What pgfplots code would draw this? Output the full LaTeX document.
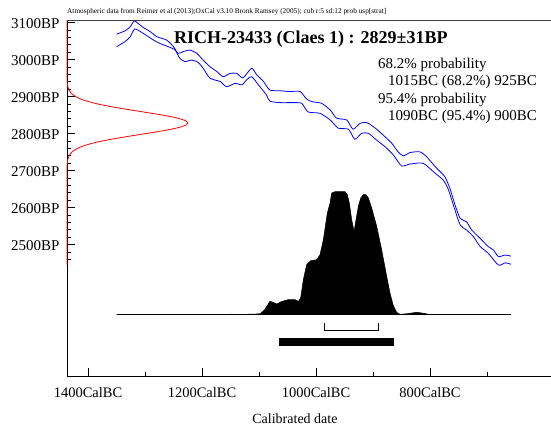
\documentclass[border=0pt]{standalone}
\usepackage{fontspec}
\setmainfont{Liberation Serif}
\usepackage{pgfplots}
\pgfplotsset{compat=1.18}
\begin{document}
\begin{tikzpicture}[x=1pt,y=1pt]
\useasboundingbox (0,0) rectangle (551,430);
\begin{axis}[
  at={(67pt,54pt)}, anchor=south west,
  width=484pt, height=356pt, scale only axis,
  xmin=-1436.84, xmax=-587.72, ymin=2145.14, ymax=3107.3,
  axis x line*=bottom, axis y line*=left,
  axis line style={line width=0.9pt, -},
  clip=false,
  xtick={-1400,-1200,-1000,-800},
  xticklabels={1400CalBC,1200CalBC,1000CalBC,800CalBC},
  minor xtick={-1300,-1100,-900,-700},
  ytick={2500,2600,2700,2800,2900,3000,3100},
  yticklabels={2500BP,2600BP,2700BP,2800BP,2900BP,3000BP,3100BP},
  minor ytick={2460,2480,...,3100},
  tick align=inside, major tick length=8pt, minor tick length=4pt,
  tick style={black, line width=0.8pt},
  yticklabel style={font=\fontsize{15}{18}\selectfont, xshift=-4pt, yshift=-1pt},
  xticklabel style={font=\fontsize{14.5}{17}\selectfont, yshift=-7.5pt},
  xlabel={Calibrated date},
  xlabel style={font=\fontsize{14}{17}\selectfont, at={(axis description cs:0.471,0)}, anchor=north, yshift=-34pt},
]
% calibration curve, upper
\addplot[blue, line width=0.8pt, smooth, tension=0.4] coordinates {
(-1350,3069) (-1335,3078) (-1326,3089) (-1319,3105) (-1312,3098) (-1303,3087)
(-1291,3076) (-1279,3062) (-1262,3053) (-1250,3035) (-1242,3017) (-1233,3022)
(-1221,3026) (-1209,3017) (-1198,2999) (-1186,2981) (-1174,2968) (-1163,2954)
(-1151,2963) (-1139,2963) (-1128,2951) (-1113,2977) (-1104,2959) (-1092,2941)
(-1081,2918) (-1063,2916) (-1046,2914) (-1028,2914) (-1016,2893) (-1005,2886)
(-990,2882) (-975,2864) (-964,2842) (-946,2837) (-935,2812) (-923,2828)
(-911,2830) (-896,2815) (-882,2796) (-867,2774) (-856,2751) (-847,2740)
(-835,2749) (-818,2751) (-806,2738) (-791,2711) (-782,2697) (-774,2684)
(-765,2652) (-756,2607) (-747,2571) (-736,2562) (-727,2540) (-712,2517)
(-698,2495) (-689,2486) (-680,2468) (-668,2472) (-658,2469)};
% calibration curve, lower
\addplot[blue, line width=0.8pt, smooth, tension=0.4] coordinates {
(-1350,3035) (-1335,3049) (-1326,3062) (-1318,3083) (-1306,3074) (-1297,3065)
(-1285,3053) (-1274,3044) (-1259,3035) (-1247,3026) (-1239,3004) (-1230,2995)
(-1218,2999) (-1207,2993) (-1198,2977) (-1186,2950) (-1168,2941) (-1157,2927)
(-1142,2936) (-1130,2932) (-1122,2945) (-1113,2954) (-1101,2932) (-1087,2905)
(-1081,2888) (-1063,2884) (-1040,2884) (-1025,2882) (-1014,2859) (-993,2855)
(-975,2837) (-961,2815) (-943,2812) (-932,2785) (-920,2801) (-908,2801)
(-894,2783) (-879,2765) (-864,2742) (-850,2713) (-835,2718) (-812,2720)
(-791,2693) (-777,2675) (-768,2650) (-759,2607) (-747,2553) (-736,2540)
(-724,2522) (-712,2495) (-698,2477) (-680,2445) (-668,2451) (-658,2447)};
% radiocarbon date 2829 +- 31 BP
\addplot[red, line width=0.8pt] coordinates {
(-1436.84,3107) (-1436.84,2949) (-1436.4,2939) (-1435.7,2929) (-1433.7,2919)
(-1429.2,2909) (-1425.3,2904) (-1420.2,2899) (-1413.2,2894) (-1404.1,2889)
(-1392.9,2884) (-1379.1,2879) (-1362.7,2874) (-1344.5,2869) (-1324.5,2864)
(-1304.0,2859) (-1283.6,2854) (-1264.5,2849) (-1247.9,2844) (-1235.4,2839)
(-1227.4,2834) (-1224.6,2829) (-1227.4,2824) (-1235.4,2819) (-1247.9,2814)
(-1264.5,2809) (-1283.6,2804) (-1304.0,2799) (-1324.5,2794) (-1344.5,2789)
(-1362.7,2784) (-1379.1,2779) (-1392.9,2774) (-1404.1,2769) (-1413.2,2764)
(-1420.2,2759) (-1425.3,2754) (-1429.2,2749) (-1433.7,2739) (-1435.7,2729)
(-1436.4,2719) (-1436.84,2709) (-1436.84,2446)};
\draw[black!75, line width=0.8pt] (rel axis cs:0,1) -- (rel axis cs:1,1);
\end{axis}
\begin{axis}[
  at={(67pt,54pt)}, anchor=south west,
  width=484pt, height=356pt, scale only axis,
  xmin=-1436.84, xmax=-587.72, ymin=-0.4984, ymax=2.396,
  hide axis, clip=false,
]
\addplot[fill=black, draw=black, line width=0.5pt] coordinates {
(-1350,0) (-1160,0) (-1150,0.004) (-1140,0.002) (-1133,0.003) (-1110,0.004)
(-1098,0.008) (-1090,0.041) (-1081,0.108) (-1075,0.100) (-1069,0.087)
(-1060,0.108) (-1049,0.122) (-1037,0.122) (-1031,0.108) (-1026.9,0.136)
(-1022.2,0.285) (-1016.4,0.407) (-1009.3,0.439) (-998.8,0.447) (-992.9,0.488)
(-987.1,0.610) (-980.1,0.827) (-975.4,0.908) (-972.5,0.989) (-966.6,1.0)
(-949.1,1.0) (-945.0,0.976) (-941.5,0.908) (-937.4,0.772) (-933.3,0.678)
(-929.8,0.772) (-925.7,0.881) (-921.6,0.949) (-916.9,0.976) (-912.3,0.976)
(-908.2,0.949) (-902.3,0.867) (-893.5,0.718) (-884.8,0.528) (-876.0,0.312)
(-870.2,0.176) (-864.3,0.073) (-858.5,0.019) (-852.6,0.003) (-840,0.008)
(-823,0.020) (-810,0.010) (-800,0.002) (-790,0) (-658,0)} \closedcycle;
\addplot[black, line width=1.2pt] coordinates {(-1350,0) (-658,0)};
\addplot[black, line width=0.8pt] coordinates {(-985.4,-0.070) (-985.4,-0.124) (-890.7,-0.124) (-890.7,-0.070)};
\addplot[black, line width=7.4pt] coordinates {(-1064.9,-0.222) (-863.2,-0.222)};
\end{axis}
\node[anchor=base west, inner sep=0, font=\fontsize{7.3}{8}\selectfont] at (67,416) {Atmospheric data from Reimer et al (2013);OxCal v3.10 Bronk Ramsey (2005); cub r:5 sd:12 prob usp[strat]};
\node[anchor=base west, inner sep=0, font=\fontsize{18}{21}\selectfont\bfseries] at (174,386.7) {RICH-23433 (Claes 1) : 2829±31BP};
\node[anchor=base west, inner sep=0, font=\fontsize{15}{18}\selectfont] at (378,361.5) {68.2\% probability};
\node[anchor=base west, inner sep=0, font=\fontsize{15}{18}\selectfont] at (388,344) {1015BC (68.2\%) 925BC};
\node[anchor=base west, inner sep=0, font=\fontsize{15}{18}\selectfont] at (378,326.5) {95.4\% probability};
\node[anchor=base west, inner sep=0, font=\fontsize{15}{18}\selectfont] at (388,309) {1090BC (95.4\%) 900BC};
\end{tikzpicture}
\end{document}
